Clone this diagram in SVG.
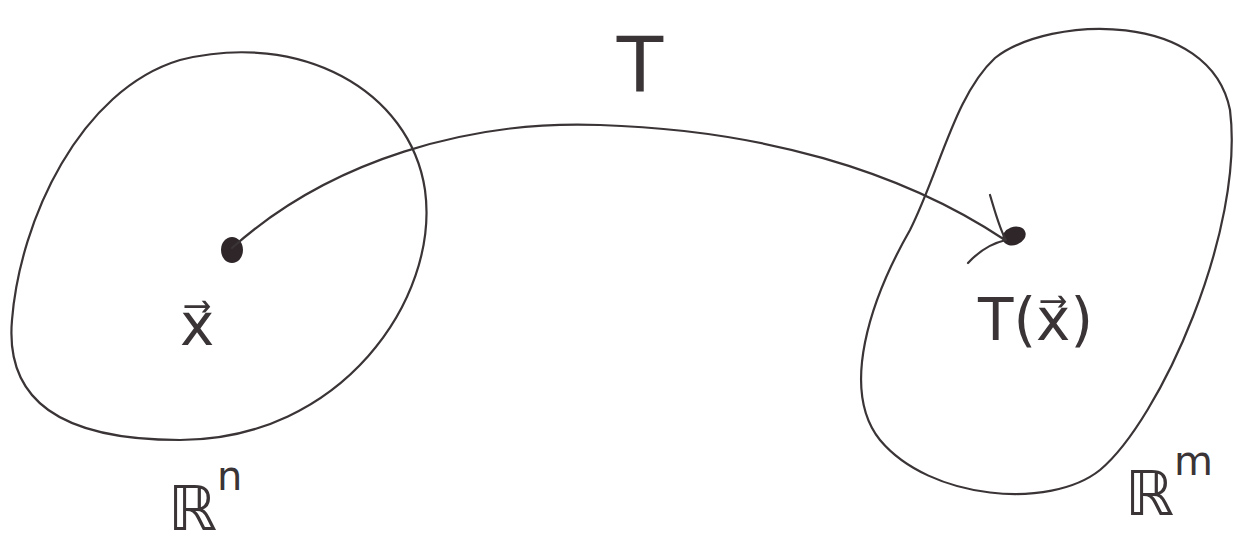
<svg xmlns="http://www.w3.org/2000/svg" width="1235" height="550" viewBox="0 0 1235 550">
<style>
.ink{fill:none;stroke:#3a3436;stroke-width:2.2;stroke-linecap:round;stroke-linejoin:round}
.lbl{font-family:"DejaVu Sans","Liberation Sans",sans-serif;fill:#3a3436;font-weight:normal}
</style>
<rect width="1235" height="550" fill="#ffffff"/>
<g id="domain">
<path class="ink" d="M180,60 C300,30 410,90 425,190 C440,300 340,440 180,440 C60,440 5,400 12,320 C20,220 80,90 180,60 Z"/>
<text class="lbl" x="168" y="530" font-size="62">ℝ<tspan font-size="40" dy="-40">n</tspan></text>
</g>
<g id="codomain">
<path class="ink" d="M995,58 C1050,15 1210,10 1230,110 C1245,230 1160,420 1100,470 C1050,510 930,500 880,440 C840,390 870,300 910,230 C940,170 955,95 995,58 Z"/>
<text class="lbl" x="1125" y="515" font-size="62">ℝ<tspan font-size="40" dy="-40">m</tspan></text>
</g>
<g id="x">
<ellipse cx="232" cy="250" rx="11" ry="13" fill="#2e2628"/>
<text class="lbl" x="180" y="345" font-size="58">x⃗</text>
</g>
<g id="Tx">
<ellipse cx="1014" cy="236" rx="12" ry="9" transform="rotate(-20 1014 236)" fill="#2e2628"/>
<text class="lbl" x="978" y="340" font-size="58">T(x⃗)</text>
</g>
<g id="connectors">
<path class="ink" d="M232,248 C330,160 470,120 600,125 C760,130 900,170 1005,240"/>
<path class="ink" d="M990,195 C996,215 1000,230 1006,240 M968,263 C980,250 993,243 1006,240"/>
<text class="lbl" x="640" y="92" font-size="76" text-anchor="middle">T</text>
</g>
</svg>
